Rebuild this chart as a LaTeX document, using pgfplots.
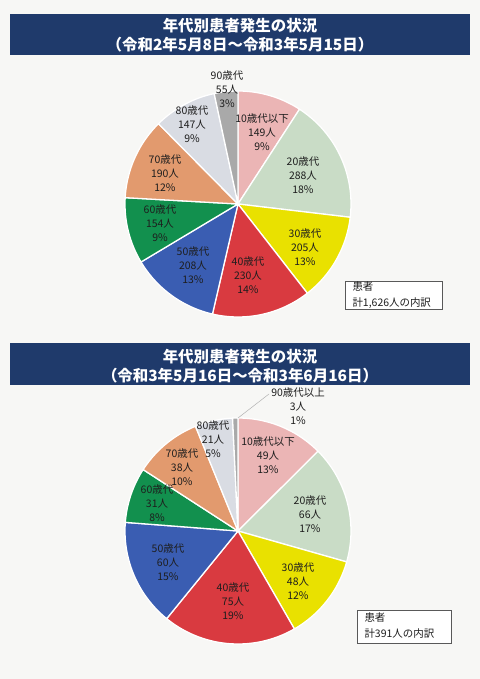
\documentclass[border=0pt]{standalone}
\usepackage{pgfplots}
\pgfplotsset{compat=1.18}
\usepackage{pgfplotstable}
\usepackage{fontspec}
\setmainfont{Noto Sans CJK JP}
\definecolor{banner}{HTML}{1F3A6B}
\definecolor{bg}{HTML}{F7F7F5}
\definecolor{c10}{HTML}{EBB5B5}
\definecolor{c20}{HTML}{C9DCC6}
\definecolor{c30}{HTML}{E9E100}
\definecolor{c40}{HTML}{D93A40}
\definecolor{c50}{HTML}{3A5DB2}
\definecolor{c60}{HTML}{12904E}
\definecolor{c70}{HTML}{E29A6E}
\definecolor{c80}{HTML}{D9DCE3}
\definecolor{c90}{HTML}{A9A9A9}
\definecolor{lab}{HTML}{1E1E1E}

\pgfplotstableread{
val color
149 c10
288 c20
205 c30
230 c40
208 c50
154 c60
190 c70
147 c80
55  c90
}\pieA
\pgfplotstableread{
val color
49 c10
66 c20
48 c30
75 c40
60 c50
31 c60
38 c70
21 c80
3  c90
}\pieB

\newcommand\drawpie[4]{%
  \def\pietot{0}%
  \pgfplotsforeachungrouped \i in {0,...,8}{%
    \pgfplotstablegetelem{\i}{val}\of{#1}%
    \pgfmathsetmacro\pietot{\pietot+\pgfplotsretval}%
  }%
  \def\piecum{0}%
  \pgfplotsforeachungrouped \i in {0,...,8}{%
    \pgfplotstablegetelem{\i}{val}\of{#1}\let\pv\pgfplotsretval
    \pgfplotstablegetelem{\i}{color}\of{#1}\let\pc\pgfplotsretval
    \pgfmathsetmacro\pa{90-\piecum/\pietot*360}%
    \pgfmathsetmacro\pb{90-(\piecum+\pv)/\pietot*360}%
    \edef\doit{\noexpand\addplot[fill=\pc,draw=white,line width=1.3pt,line join=round,domain=\pb:\pa,samples=60] ({#2+#4*cos(x)},{#3+#4*sin(x)}) -- (axis cs:#2,#3) -- cycle;}%
    \doit
    \pgfmathsetmacro\piecum{\piecum+\pv}%
  }%
}

\begin{document}
\begin{tikzpicture}[
  lab/.style={align=center,text=lab,font=\fontsize{10.5}{14}\selectfont},
  ttl/.style={align=center,text=white,font=\bfseries\fontsize{15.5}{19}\selectfont}]
\begin{axis}[width=480bp,height=679bp,scale only axis,
  xmin=0,xmax=480,ymin=0,ymax=679,hide axis,clip=false]
% background
\fill[bg] (axis cs:0,0) rectangle (axis cs:480,679);
% banner 1
\fill[banner] (axis cs:10,624) rectangle (axis cs:470,665);
\node[ttl] at (axis cs:240,644) {年代別患者発生の状況\\（令和2年5月8日～令和3年5月15日）};
% pie 1
\drawpie{\pieA}{238}{475}{113}
\node[lab] at (axis cs:227,590) {90歳代\\55人\\3\%};
\node[lab] at (axis cs:262,547) {10歳代以下\\149人\\9\%};
\node[lab] at (axis cs:303,504) {20歳代\\288人\\18\%};
\node[lab] at (axis cs:305,432) {30歳代\\205人\\13\%};
\node[lab] at (axis cs:248,404) {40歳代\\230人\\14\%};
\node[lab] at (axis cs:193,414) {50歳代\\208人\\13\%};
\node[lab] at (axis cs:160,456) {60歳代\\154人\\9\%};
\node[lab] at (axis cs:165,506) {70歳代\\190人\\12\%};
\node[lab] at (axis cs:192,555) {80歳代\\147人\\9\%};
% box 1
\draw[gray!70!black,line width=0.6pt,fill=white] (axis cs:345,370) rectangle (axis cs:442,398);
\node[lab,anchor=west,align=left,font=\fontsize{10.5}{15.5}\selectfont] at (axis cs:349,384) {患者\\計1,626人の内訳};
% banner 2
\fill[banner] (axis cs:10,294) rectangle (axis cs:470,336);
\node[ttl] at (axis cs:240,313) {年代別患者発生の状況\\（令和3年5月16日～令和3年6月16日）};
% pie 2
\drawpie{\pieB}{238}{148}{113}
\draw[gray!60,line width=0.5pt] (axis cs:238,261) -- (axis cs:269,285);
\node[lab] at (axis cs:298,273) {90歳代以上\\3人\\1\%};
\node[lab] at (axis cs:268,224) {10歳代以下\\49人\\13\%};
\node[lab] at (axis cs:310,165) {20歳代\\66人\\17\%};
\node[lab] at (axis cs:298,98) {30歳代\\48人\\12\%};
\node[lab] at (axis cs:233,78) {40歳代\\75人\\19\%};
\node[lab] at (axis cs:168,117) {50歳代\\60人\\15\%};
\node[lab] at (axis cs:157,176) {60歳代\\31人\\8\%};
\node[lab] at (axis cs:182,212) {70歳代\\38人\\10\%};
\node[lab] at (axis cs:213,240) {80歳代\\21人\\5\%};
% box 2
\draw[gray!70!black,line width=0.6pt,fill=white] (axis cs:357,36) rectangle (axis cs:451,69);
\node[lab,anchor=west,align=left,font=\fontsize{10.5}{16}\selectfont] at (axis cs:361,53) {患者\\計391人の内訳};
\end{axis}
\end{tikzpicture}
\end{document}
